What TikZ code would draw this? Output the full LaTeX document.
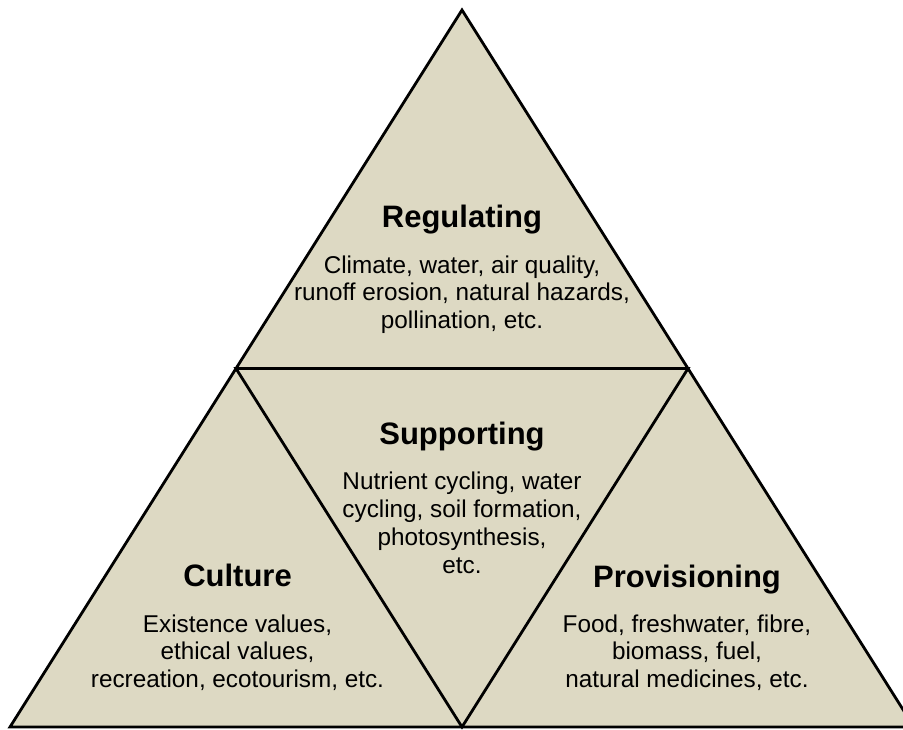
\documentclass[tikz,border=0pt]{standalone}
\usepackage{fontspec}
\setmainfont{Liberation Sans}
\definecolor{tan}{HTML}{DDD9C3}
\begin{document}
\begin{tikzpicture}[x=1pt,y=-1pt,
  edge/.style={draw=black,line width=2.8pt},
  title/.style={anchor=base,inner sep=0pt,font=\fontsize{31}{36}\selectfont\bfseries},
  body/.style={anchor=base,inner sep=0pt,align=center,font=\fontsize{24.3}{27.7}\selectfont}]
\useasboundingbox (0,0) rectangle (903,729);
\coordinate (A) at (462,10);
\coordinate (L) at (10,727);
\coordinate (R) at (914,727);
\coordinate (ML) at (236,368.5);
\coordinate (MR) at (688,368.5);
\coordinate (MB) at (462,727);
\fill[tan] (A) -- (L) -- (R) -- cycle;
\draw[edge] (A) -- (L) -- (R) -- cycle;
\draw[edge] (ML) -- (MR) -- (MB) -- cycle;
\node[title] (treg) at (462,227) {Regulating};
\node[body] (breg) at (462,328.4) {Climate, water, air quality,\\runoff erosion, natural hazards,\\pollination, etc.};
\node[title] (tsup) at (462,444) {Supporting};
\node[body] (bsup) at (462,573) {Nutrient cycling, water\\cycling, soil formation,\\photosynthesis,\\etc.};
\node[title] (tcul) at (237.5,586) {Culture};
\node[body] (bcul) at (237.5,687.4) {Existence values,\\ethical values,\\recreation, ecotourism, etc.};
\node[title] (tpro) at (687,587) {Provisioning};
\node[body] (bpro) at (687,687.4) {Food, freshwater, fibre,\\biomass, fuel,\\natural medicines, etc.};
\end{tikzpicture}
\end{document}
